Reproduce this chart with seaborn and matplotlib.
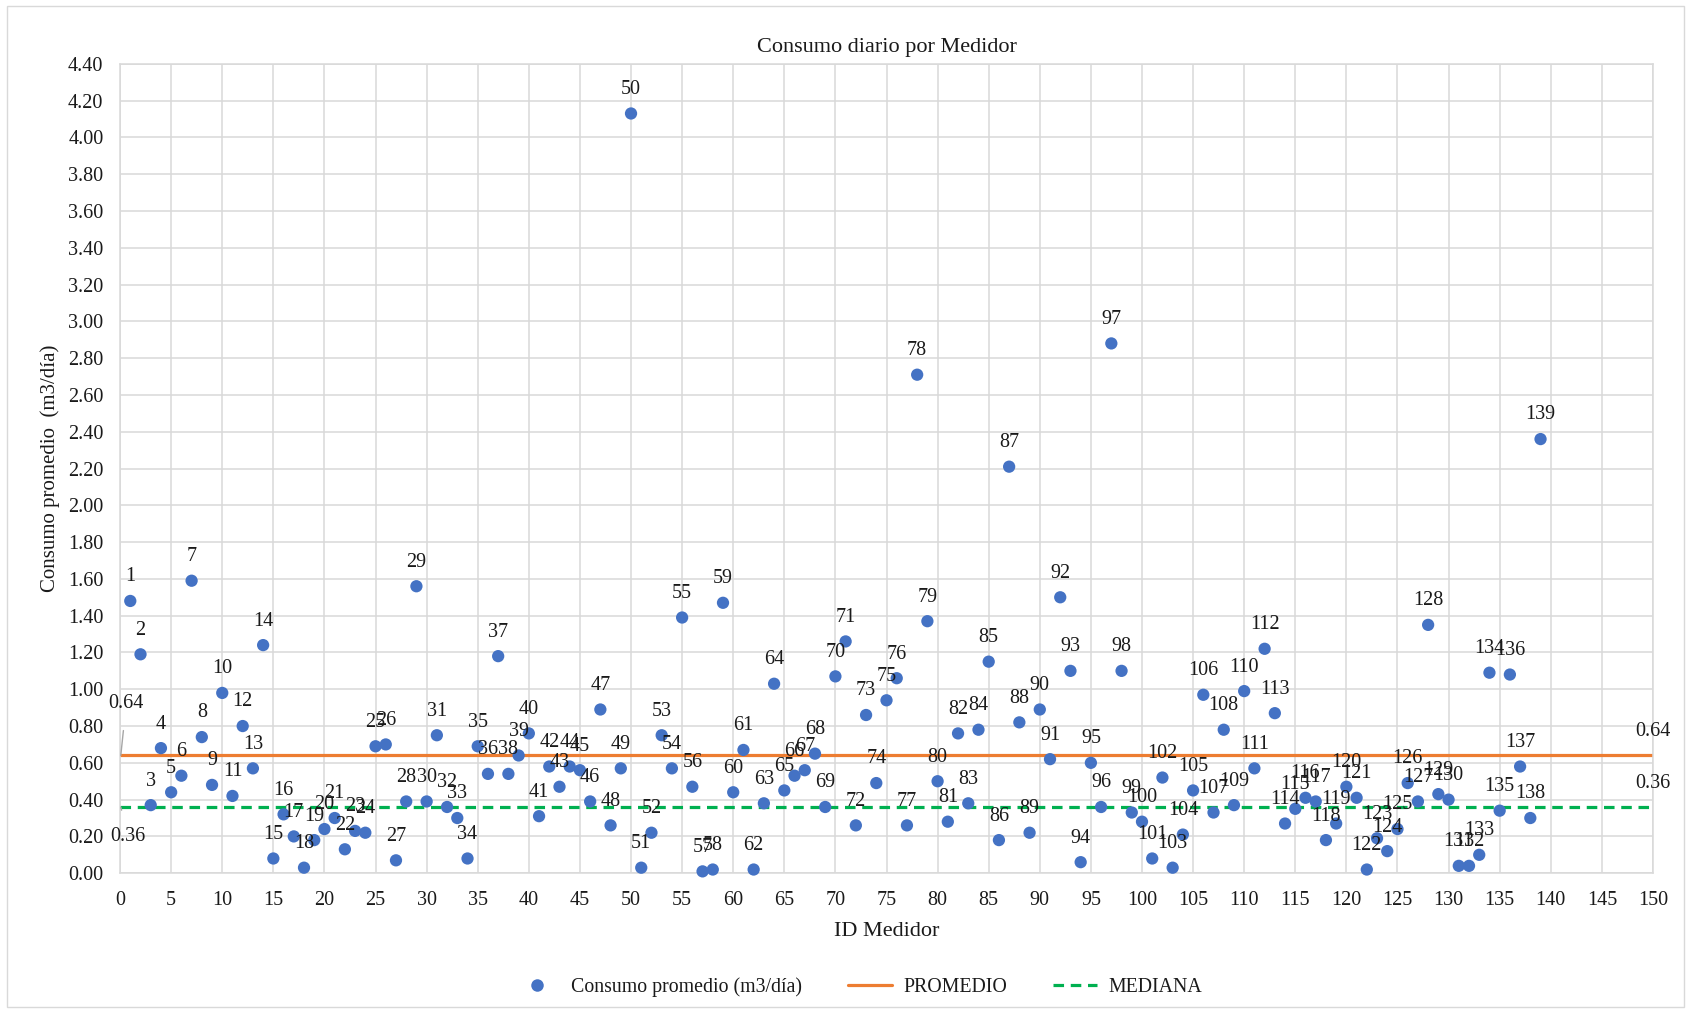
import numpy as np
import pandas as pd
import matplotlib
matplotlib.use("Agg")
import matplotlib.pyplot as plt
from matplotlib.lines import Line2D
from matplotlib.patches import Rectangle
import seaborn as sns

# Average daily consumption per meter (m3/day), meters 1..139
medidor_ids = list(range(1, 140))
consumo = [
    1.48, 1.19, 0.37, 0.68, 0.44, 0.53, 1.59, 0.74, 0.48, 0.98,   # 1-10
    0.42, 0.80, 0.57, 1.24, 0.08, 0.32, 0.20, 0.03, 0.18, 0.24,   # 11-20
    0.30, 0.13, 0.23, 0.22, 0.69, 0.70, 0.07, 0.39, 1.56, 0.39,   # 21-30
    0.75, 0.36, 0.30, 0.08, 0.69, 0.54, 1.18, 0.54, 0.64, 0.76,   # 31-40
    0.31, 0.58, 0.47, 0.58, 0.56, 0.39, 0.89, 0.26, 0.57, 4.13,   # 41-50
    0.03, 0.22, 0.75, 0.57, 1.39, 0.47, 0.01, 0.02, 1.47, 0.44,   # 51-60
    0.67, 0.02, 0.38, 1.03, 0.45, 0.53, 0.56, 0.65, 0.36, 1.07,   # 61-70
    1.26, 0.26, 0.86, 0.49, 0.94, 1.06, 0.26, 2.71, 1.37, 0.50,   # 71-80
    0.28, 0.76, 0.38, 0.78, 1.15, 0.18, 2.21, 0.82, 0.22, 0.89,   # 81-90
    0.62, 1.50, 1.10, 0.06, 0.60, 0.36, 2.88, 1.10, 0.33, 0.28,   # 91-100
    0.08, 0.52, 0.03, 0.21, 0.45, 0.97, 0.33, 0.78, 0.37, 0.99,   # 101-110
    0.57, 1.22, 0.87, 0.27, 0.35, 0.41, 0.39, 0.18, 0.27, 0.47,   # 111-120
    0.41, 0.02, 0.19, 0.12, 0.24, 0.49, 0.39, 1.35, 0.43, 0.40,   # 121-130
    0.04, 0.04, 0.10, 1.09, 0.34, 1.08, 0.58, 0.30, 2.36,         # 131-139
]
promedio = 0.64
mediana = 0.36

titulo = "Consumo diario por Medidor"
x_label = "ID Medidor"
y_label = "Consumo promedio  (m3/día)"
serie_label = "Consumo promedio (m3/día)"
y_ticks = np.round(np.arange(0, 4.41, 0.2), 2)
x_ticks = list(range(0, 151, 5))

df = pd.DataFrame({"id": medidor_ids, "consumo": consumo})

BLUE = "#4472C4"
ORANGE = "#ED7D31"
GREEN = "#00B050"
GRID = "#D9D9D9"
TEXT = "#1a1a1a"
FS = 14.5

sns.set_theme(style="white")
plt.rcParams["font.family"] = ["Liberation Serif", "DejaVu Serif"]

fig = plt.figure(figsize=(16.91, 10.13), dpi=100)
ax = fig.add_axes([0.071, 0.138, 0.9065, 0.799])

# chart-area frame
fig.patches.append(Rectangle((0.004, 0.006), 0.992, 0.988, transform=fig.transFigure,
                             fill=False, edgecolor=GRID, linewidth=1.0))

ax.set_xlim(0, 150)
ax.set_ylim(0, 4.4)
ax.set_xticks(x_ticks)
ax.set_yticks(y_ticks)
ax.set_yticklabels([f"{v:.2f}" for v in y_ticks])
ax.grid(True, color=GRID, linewidth=1.1)
ax.set_axisbelow(True)
for s in ax.spines.values():
    s.set_color(GRID)
    s.set_linewidth(1.1)
ax.tick_params(axis="both", length=0, labelsize=FS, colors=TEXT)
ax.tick_params(axis="y", pad=12)
ax.tick_params(axis="x", pad=13)

# reference lines
ax.axhline(promedio, color=ORANGE, linewidth=2.3, zorder=2)
ax.axhline(mediana, color=GREEN, linewidth=2.3, linestyle=(0, (3.3, 2.1)), zorder=2)

sns.scatterplot(data=df, x="id", y="consumo", ax=ax, color=BLUE, s=78,
                edgecolor="none", zorder=3, legend=False, clip_on=False)

# point labels (meter id above each point)
for i, v in zip(medidor_ids, consumo):
    ax.annotate(str(i), (i, v), xytext=(0, 10.5), textcoords="offset points",
                ha="center", va="bottom", fontsize=FS, color=TEXT, zorder=4)

# value labels for the reference lines
ax.annotate(f"{promedio:.2f}", xy=(0.07, promedio), xytext=(0.6, 0.92),
            ha="center", va="center", fontsize=FS, color=TEXT,
            arrowprops=dict(arrowstyle="-", color="#A6A6A6", lw=1.0,
                            shrinkA=10, shrinkB=0))
ax.annotate(f"{mediana:.2f}", xy=(0.07, mediana), xytext=(0.8, 0.20),
            ha="center", va="center", fontsize=FS, color=TEXT,
            arrowprops=dict(arrowstyle="-", color="#A6A6A6", lw=1.0,
                            shrinkA=10, shrinkB=0))
ax.text(150, promedio + 0.13, f"{promedio:.2f}", ha="center", va="center",
        fontsize=FS, color=TEXT, clip_on=False)
ax.text(150, mediana + 0.13, f"{mediana:.2f}", ha="center", va="center",
        fontsize=FS, color=TEXT, clip_on=False)

fig.text(0.5243, 0.9535, titulo, ha="center", va="center", fontsize=16, color=TEXT)
ax.set_xlabel(x_label, fontsize=16, color=TEXT)
ax.set_ylabel(y_label, fontsize=15, color=TEXT)
ax.xaxis.set_label_coords(0.5, -0.060)
ax.yaxis.set_label_coords(-0.039, 0.5)

handles = [
    Line2D([], [], marker="o", linestyle="none", markersize=9,
           markerfacecolor=BLUE, markeredgecolor="none"),
    Line2D([], [], color=ORANGE, linewidth=2.3),
    Line2D([], [], color=GREEN, linewidth=2.3, linestyle=(0, (3.3, 2.1))),
]
fig.legend(handles, [serie_label, "PROMEDIO", "MEDIANA"], loc="center",
           bbox_to_anchor=(0.508, 0.026), ncol=3, frameon=False, fontsize=14.3,
           handlelength=2.2, columnspacing=2.3, handletextpad=0.6,
           labelcolor=TEXT)

fig.savefig("out.png", dpi=100, facecolor="white")
